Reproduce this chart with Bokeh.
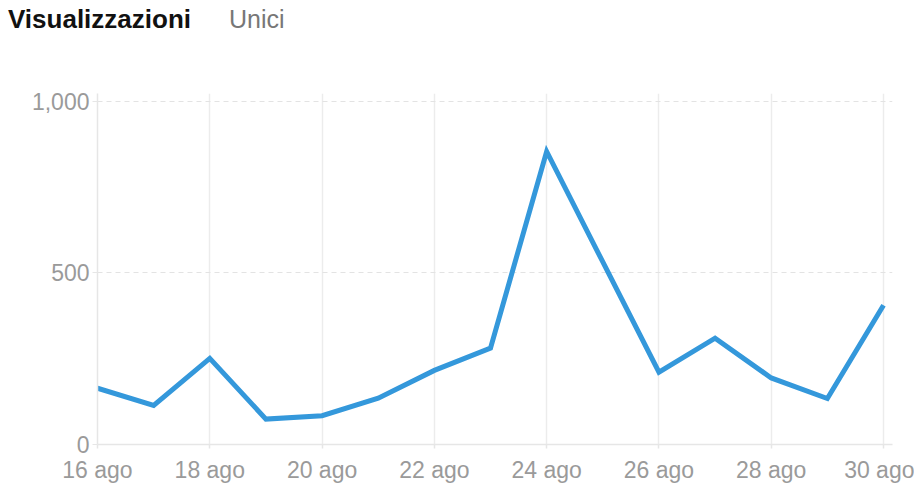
from bokeh.plotting import figure
from bokeh.models import Range1d, FixedTicker, Div
from bokeh.layouts import column
from bokeh.embed import file_html
from bokeh.resources import INLINE

days = [16, 17, 18, 19, 20, 21, 22, 23, 24, 25, 26, 27, 28, 29, 30]
views = [164, 114, 251, 74, 84, 135, 216, 281, 854, 532, 211, 310, 194, 134, 406]
x_ticks = [16, 18, 20, 22, 24, 26, 28, 30]
x_tick_labels = ["16 ago", "18 ago", "20 ago", "22 ago", "24 ago", "26 ago", "28 ago", "30 ago"]
y_ticks = [0, 500, 1000]
y_tick_labels = ["0", "500", "1,000"]
tab_active = "Visualizzazioni"
tab_inactive = "Unici"

FONT = "Liberation Sans"

header = Div(width=914, height=40, margin=0, text=(
    '<div style="position:relative;width:914px;height:40px;font-family:\'Liberation Sans\';line-height:26px;">'
    f'<span style="position:absolute;left:8px;top:6px;font-size:26px;font-weight:bold;color:#111111;">{tab_active}</span>'
    f'<span style="position:absolute;left:229px;top:6px;font-size:25px;color:#777777;">{tab_inactive}</span>'
    '</div>'))

p = figure(width=914, height=445, output_backend="svg", toolbar_location=None,
           x_range=Range1d(16, 30.16), y_range=Range1d(0, 1023),
           min_border_left=97, min_border_right=22, min_border_top=53, min_border_bottom=41,
           margin=0)
p.outline_line_color = None
p.background_fill_color = "white"

p.line(days, views, line_color="#3498db", line_width=5, line_join="miter")

# x axis
xa = p.xaxis[0]
xa.ticker = FixedTicker(ticks=x_ticks)
xa.major_label_overrides = {t: l for t, l in zip(x_ticks, x_tick_labels)}
xa.axis_line_color = "#e6e6e6"
xa.axis_line_width = 1.5
xa.major_tick_line_color = "#e6e6e6"
xa.major_tick_line_width = 1.5
xa.major_tick_out = 4
xa.major_tick_in = 0
xa.minor_tick_line_color = None
xa.major_label_text_font = FONT
xa.major_label_text_font_size = "23px"
xa.major_label_text_line_height = 1.0
xa.major_label_text_color = "#9a9a9a"
xa.major_label_standoff = 8

# y axis
ya = p.yaxis[0]
ya.ticker = FixedTicker(ticks=y_ticks)
ya.major_label_overrides = {t: l for t, l in zip(y_ticks, y_tick_labels)}
ya.axis_line_color = "#e6e6e6"
ya.axis_line_width = 1.5
ya.major_tick_line_color = "#e6e6e6"
ya.major_tick_out = 5
ya.major_tick_in = 0
ya.minor_tick_line_color = None
ya.major_label_text_font = FONT
ya.major_label_text_font_size = "23px"
ya.major_label_text_color = "#9a9a9a"
ya.major_label_standoff = 3

p.xgrid.ticker = FixedTicker(ticks=x_ticks)
p.xgrid.grid_line_color = "#ececec"
p.xgrid.grid_line_width = 1.5
p.ygrid.ticker = FixedTicker(ticks=y_ticks)
p.ygrid.grid_line_color = "#e3e3e3"
p.ygrid.grid_line_dash = "5 4"
p.ygrid.grid_line_width = 1

layout = column(header, p, spacing=0, margin=0)
open("out.html", "w").write(file_html(layout, INLINE))
